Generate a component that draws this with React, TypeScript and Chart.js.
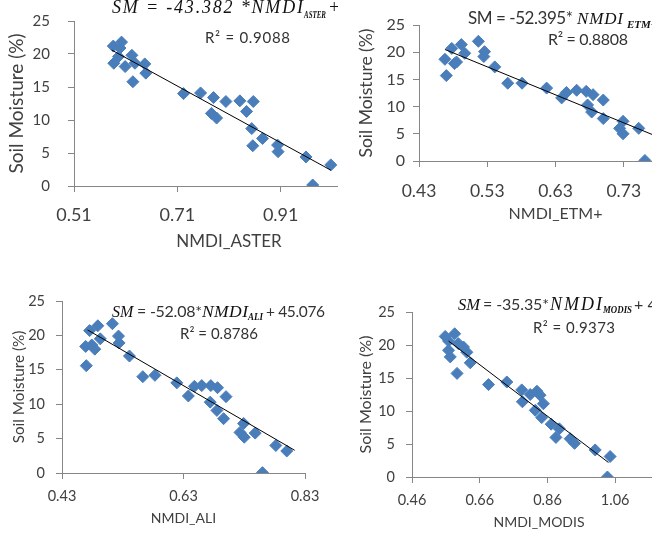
import React, { useEffect, useRef } from "react";
import { Chart, registerables } from "chart.js";
Chart.register(...registerables);

// ---------------- DATA ----------------
const smTicks = [0, 5, 10, 15, 20, 25];

const asterX = [0.586, 0.602, 0.599, 0.587, 0.596, 0.609, 0.622, 0.628, 0.624, 0.647, 0.649, 0.722, 0.755, 0.780, 0.804, 0.831, 0.857, 0.844, 0.776, 0.786, 0.854, 0.875, 0.856, 0.904, 0.905, 0.959, 1.007, 0.972];
const asterY = [21.2, 21.8, 20.9, 18.6, 19.6, 18.1, 19.8, 18.6, 15.8, 18.5, 17.1, 14.0, 14.1, 13.4, 12.8, 12.9, 12.8, 11.3, 11.0, 10.3, 8.7, 7.2, 6.1, 6.2, 5.2, 4.4, 3.2, 0.15];
const asterTicks = [0.51, 0.71, 0.91, 1.11];
const asterTickLabels = ["0.51", "0.71", "0.91", "1.11"];
const asterTrendX = [0.583, 1.007];
const asterTrendY = [20.6, 2.4];

const etmX = [0.470, 0.468, 0.478, 0.485, 0.492, 0.497, 0.482, 0.517, 0.526, 0.525, 0.541, 0.560, 0.581, 0.617, 0.639, 0.646, 0.661, 0.675, 0.685, 0.700, 0.677, 0.683, 0.700, 0.729, 0.724, 0.729, 0.752, 0.761, 0.790, 0.810];
const etmY = [15.7, 18.7, 20.7, 18.2, 21.4, 19.8, 17.9, 22.0, 20.1, 19.2, 17.3, 14.3, 14.3, 13.4, 11.6, 12.6, 13.0, 12.8, 12.2, 11.2, 10.3, 9.0, 7.8, 7.3, 6.0, 5.0, 6.0, 0.1, 4.2, 3.2];
const etmTicks = [0.43, 0.53, 0.63, 0.73, 0.83];
const etmTickLabels = ["0.43", "0.53", "0.63", "0.73", "0.83"];
const etmTrendX = [0.468, 0.81];
const etmTrendY = [20.5, 2.9];

const aliX = [0.4755, 0.489, 0.513, 0.523, 0.524, 0.493, 0.484, 0.469, 0.479, 0.470, 0.541, 0.563, 0.583, 0.619, 0.638, 0.648, 0.660, 0.675, 0.686, 0.700, 0.674, 0.685, 0.696, 0.729, 0.723, 0.730, 0.748, 0.782, 0.800, 0.760];
const aliY = [20.7, 21.4, 21.7, 19.9, 18.9, 19.5, 18.0, 18.4, 18.6, 15.6, 17.0, 14.0, 14.2, 13.1, 11.2, 12.6, 12.7, 12.7, 12.4, 11.1, 10.3, 9.1, 7.9, 7.2, 5.9, 5.2, 5.8, 4.0, 3.2, 0.05];
const aliTicks = [0.43, 0.63, 0.83];
const aliTickLabels = ["0.43", "0.63", "0.83"];
const aliTrendX = [0.472, 0.813];
const aliTrendY = [20.8, 3.3];

const modisX = [0.558, 0.586, 0.568, 0.568, 0.573, 0.597, 0.612, 0.622, 0.632, 0.593, 0.686, 0.740, 0.784, 0.786, 0.809, 0.829, 0.838, 0.848, 0.824, 0.843, 0.871, 0.895, 0.885, 0.927, 0.940, 1.001, 1.045, 1.037];
const modisY = [21.3, 21.7, 20.6, 19.2, 18.2, 20.2, 19.7, 18.9, 17.3, 15.7, 14.0, 14.4, 13.2, 11.4, 12.5, 13.0, 12.4, 11.1, 10.1, 9.0, 8.0, 7.3, 6.0, 5.8, 5.1, 4.1, 3.1, 0.0];
const modisTicks = [0.46, 0.66, 0.86, 1.06];
const modisTickLabels = ["0.46", "0.66", "0.86", "1.06"];
const modisTrendX = [0.568, 1.04];
const modisTrendY = [20.6, 2.2];

// ---------------- LAYOUT ----------------
const SANS = "Lato, 'DejaVu Sans', sans-serif";
const SERIF = "'Liberation Serif', 'Times New Roman', serif";
const TXT = "#404040";
const AXIS = "#868686";
const MARK = "#4A7EBB";

type Cfg = {
  left: number; top: number; w: number; h: number;
  canvasW: number; plotLeft: number; plotRight: number; plotTop: number; plotBottom: number;
  xMin: number; xMax: number; xTicks: number[]; xLabels: string[];
  xs: number[]; ys: number[]; tx: number[]; ty: number[];
  xTitle: string;
  xTickFont: number; yTickFont: number; xTitleFont: number; yTitleFont: number;
  xTickPad: number; yTickPad: number; xTitlePad: number; yTitlePad: number;
};

const panels: Cfg[] = [
  {
    left: 0, top: 0, w: 338, h: 265, canvasW: 410, plotLeft: 74, plotRight: 384, plotTop: 21, plotBottom: 186,
    xMin: 0.51, xMax: 1.11, xTicks: asterTicks, xLabels: asterTickLabels, xs: asterX, ys: asterY, tx: asterTrendX, ty: asterTrendY,
    xTitle: "NMDI_ASTER", xTickFont: 18, yTickFont: 15, xTitleFont: 17, yTitleFont: 19,
    xTickPad: 12, yTickPad: 18, xTitlePad: 12.8, yTitlePad: 5.6,
  },
  {
    left: 338, top: 0, w: 314, h: 265, canvasW: 380, plotLeft: 81, plotRight: 354, plotTop: 25, plotBottom: 161,
    xMin: 0.43, xMax: 0.83, xTicks: etmTicks, xLabels: etmTickLabels, xs: etmX, ys: etmY, tx: etmTrendX, ty: etmTrendY,
    xTitle: "NMDI_ETM+", xTickFont: 17.5, yTickFont: 16, xTitleFont: 16, yTitleFont: 17.5,
    xTickPad: 13.5, yTickPad: 8, xTitlePad: 41.4, yTitlePad: 17.5,
  },
  {
    left: 0, top: 265, w: 338, h: 268, canvasW: 338, plotLeft: 62, plotRight: 305, plotTop: 36, plotBottom: 208,
    xMin: 0.43, xMax: 0.83, xTicks: aliTicks, xLabels: aliTickLabels, xs: aliX, ys: aliY, tx: aliTrendX, ty: aliTrendY,
    xTitle: "NMDI_ALI", xTickFont: 14.5, yTickFont: 14.5, xTitleFont: 14, yTitleFont: 15.3,
    xTickPad: 8.3, yTickPad: 11, xTitlePad: 6.1, yTitlePad: 9.8,
  },
  {
    left: 338, top: 265, w: 314, h: 268, canvasW: 354, plotLeft: 74, plotRight: 328, plotTop: 47, plotBottom: 212,
    xMin: 0.46, xMax: 1.21, xTicks: modisTicks, xLabels: modisTickLabels, xs: modisX, ys: modisY, tx: modisTrendX, ty: modisTrendY,
    xTitle: "NMDI_MODIS", xTickFont: 14.5, yTickFont: 14.5, xTitleFont: 14, yTitleFont: 16,
    xTickPad: 8.3, yTickPad: 11, xTitlePad: 2.6, yTitlePad: 18.4,
  },
];

function Panel({ cfg, children }: { cfg: Cfg; children?: React.ReactNode }) {
  const ref = useRef<HTMLCanvasElement>(null);
  useEffect(() => {
    const c = cfg;
    const chart = new Chart(ref.current as HTMLCanvasElement, {
      type: "scatter",
      data: {
        datasets: [
          {
            data: c.tx.map((x, i) => ({ x, y: c.ty[i] })),
            showLine: true, borderColor: "#000", borderWidth: 1, pointRadius: 0, order: 0,
          } as any,
          {
            data: c.xs.map((x, i) => ({ x, y: c.ys[i] })),
            pointStyle: "rectRot", pointRadius: 6, backgroundColor: MARK, borderColor: MARK, borderWidth: 1, order: 1,
          } as any,
        ],
      },
      options: {
        responsive: false,
        animation: false,
        events: [],
        layout: { padding: { left: 0, top: c.plotTop, right: c.canvasW - c.plotRight, bottom: 0 } },
        plugins: { legend: { display: false }, tooltip: { enabled: false } },
        scales: {
          x: {
            type: "linear", min: c.xMin, max: c.xMax,
            afterBuildTicks: (s: any) => { s.ticks = c.xTicks.map((v) => ({ value: v })); },
            afterFit: (s: any) => { s.height = c.h - c.plotBottom; s.paddingLeft = 0; s.paddingRight = 0; },
            grid: { drawOnChartArea: false, drawTicks: true, tickLength: 6, color: AXIS },
            border: { display: true, color: AXIS },
            ticks: {
              font: { family: SANS, size: c.xTickFont }, color: TXT, padding: c.xTickPad, maxRotation: 0, autoSkip: false,
              callback: (v: any) => { const i = c.xTicks.indexOf(v); return i >= 0 ? c.xLabels[i] : ""; },
            },
            title: { display: true, text: c.xTitle, font: { family: SANS, size: c.xTitleFont }, color: TXT, padding: { top: 0, bottom: c.xTitlePad } },
          },
          y: {
            type: "linear", min: 0, max: 25,
            afterBuildTicks: (s: any) => { s.ticks = smTicks.map((v) => ({ value: v })); },
            afterFit: (s: any) => { s.width = c.plotLeft; s.paddingTop = 0; s.paddingBottom = 0; },
            grid: { drawOnChartArea: false, drawTicks: true, tickLength: 6, color: AXIS },
            border: { display: true, color: AXIS },
            ticks: { font: { family: SANS, size: c.yTickFont }, color: TXT, padding: c.yTickPad, autoSkip: false },
            title: { display: true, text: "Soil Moisture (%)", font: { family: SANS, size: c.yTitleFont }, color: TXT, padding: { top: c.yTitlePad, bottom: 0 } },
          },
        },
      },
    });
    return () => chart.destroy();
  }, [cfg]);
  return (
    <div style={{ position: "absolute", left: cfg.left, top: cfg.top, width: cfg.w, height: cfg.h, overflow: "hidden", background: "#fff" }}>
      <canvas ref={ref} width={cfg.canvasW} height={cfg.h} style={{ position: "absolute", left: 0, top: 0, width: cfg.canvasW, height: cfg.h }} />
      <svg width={cfg.w} height={cfg.h} style={{ position: "absolute", left: 0, top: 0, pointerEvents: "none" }}>
        {children}
      </svg>
    </div>
  );
}

export default function App() {
  return (
    <div style={{ position: "absolute", left: 0, top: 0, width: 652, height: 533, background: "#fff", overflow: "hidden" }}>
      <Panel cfg={panels[0]}>
        <text y={13} fill="#111" fontFamily={SERIF} fontStyle="italic">
          <tspan x={112} fontSize={18} textLength={191}>SM = -43.382 *NMDI</tspan>
          <tspan x={304} dy={5} fontSize={10} fontWeight="bold" textLength={22} lengthAdjust="spacingAndGlyphs">ASTER</tspan>
          <tspan x={328} dy={-5} fontSize={18}>+ 45.9</tspan>
        </text>
        <text x={205} y={43} fontFamily={SANS} fontSize={15} fill="#333" textLength={85}>R² = 0.9088</text>
      </Panel>
      <Panel cfg={panels[1]}>
        <text y={24} fill="#333">
          <tspan x={130} fontFamily={SANS} fontSize={17} textLength={105}>SM = -52.395*</tspan>
          <tspan x={239} fontFamily={SERIF} fontStyle="italic" fontSize={17} textLength={46} fill="#111">NMDI</tspan>
          <tspan x={289} dy={4} fontFamily={SERIF} fontStyle="italic" fontWeight="bold" fontSize={11} fill="#111">ETM+</tspan>
          <tspan x={316} dy={-4} fontFamily={SANS} fontSize={17}>+ 45.1</tspan>
        </text>
        <text x={210} y={45} fontFamily={SANS} fontSize={16} fill="#333" textLength={80}>R² = 0.8808</text>
      </Panel>
      <Panel cfg={panels[2]}>
        <text y={52} fill="#333">
          <tspan x={112} fontFamily={SERIF} fontStyle="italic" fontSize={16} fill="#111">SM</tspan>
          <tspan x={137} fontFamily={SANS} fontSize={16} textLength={65}>= -52.08*</tspan>
          <tspan x={202} fontFamily={SERIF} fontStyle="italic" fontSize={17.5} textLength={46} fill="#111">NMDI</tspan>
          <tspan x={248} dy={3} fontFamily={SERIF} fontStyle="italic" fontWeight="bold" fontSize={9.5} textLength={15} lengthAdjust="spacingAndGlyphs" fill="#111">ALI</tspan>
          <tspan x={266} dy={-3} fontFamily={SANS} fontSize={15.5} textLength={59}>+ 45.076</tspan>
        </text>
        <text x={180} y={74} fontFamily={SANS} fontSize={15} fill="#333" textLength={78}>R² = 0.8786</text>
      </Panel>
      <Panel cfg={panels[3]}>
        <text y={45} fill="#333">
          <tspan x={120} fontFamily={SERIF} fontStyle="italic" fontSize={16.5} fill="#111">SM</tspan>
          <tspan x={145} fontFamily={SANS} fontSize={16} textLength={66}>= -35.35*</tspan>
          <tspan x={212} fontFamily={SERIF} fontStyle="italic" fontSize={18} textLength={52} fill="#111">NMDI</tspan>
          <tspan x={265} dy={3} fontFamily={SERIF} fontStyle="italic" fontWeight="bold" fontSize={9.5} textLength={29} lengthAdjust="spacingAndGlyphs" fill="#111">MODIS</tspan>
          <tspan x={296} dy={-3} fontFamily={SANS} fontSize={16}>+ 40.7</tspan>
        </text>
        <text x={195} y={68} fontFamily={SANS} fontSize={15} fill="#333" textLength={82}>R² = 0.9373</text>
      </Panel>
    </div>
  );
}
